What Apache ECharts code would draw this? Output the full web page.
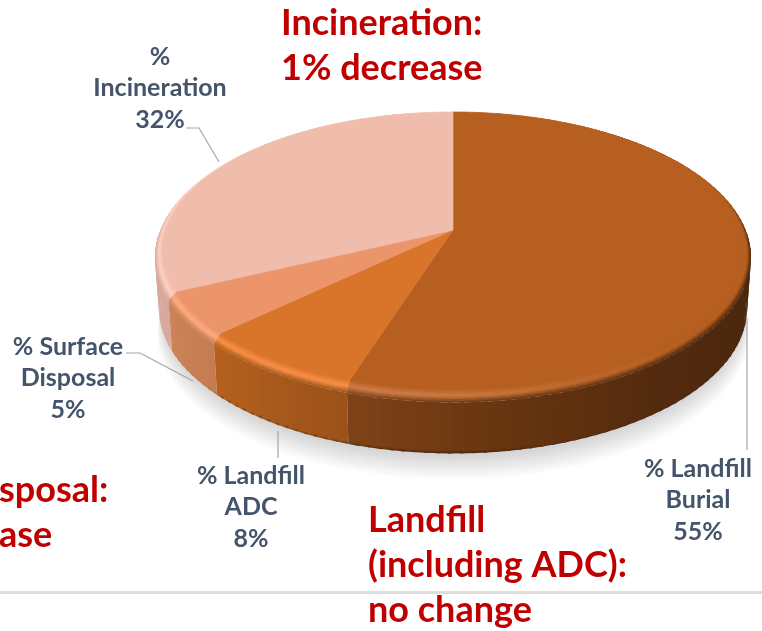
<!DOCTYPE html>
<html><head><meta charset="utf-8">
<style>html,body{margin:0;padding:0;background:#fff}#c{width:762px;height:631px}</style>
<script src="https://cdn.jsdelivr.net/npm/echarts@6/dist/echarts.min.js"></script>
</head><body><div id="c"></div>
<script>
const names = ['% Landfill\nBurial', '% Landfill\nADC', '% Surface\nDisposal', '%\nIncineration'];
const values = [55, 8, 5, 32];
const topColors = ['#b65f20', '#d9742b', '#ec956b', '#f0bdac'];
const rimColors = ['#d07f48', '#fb9148', '#ffac7f', '#fdd2c2'];
const wallDark = [0.55, 0.5, 0.12, 0];
const wallStops = [
  [[198,'#7f4318'],[170,'#65340f'],[140,'#522a0f'],[110,'#4b270d'],[0,'#4b270d']],
  [[227,'#b5621f'],[198,'#9b5119']],
  [[245,'#cd8359'],[227,'#c47c52']],
  [[360,'#d6a99c'],[245,'#d6a99c']]
];
const labelPos = [[698,500],[251,507],[68,378],[160,88]];
const leaders = [
  [[747,318],[747,450]],
  [[278,431],[278,458]],
  [[126,353],[140,353],[193,381]],
  [[186,128],[199,128],[219,162]]
];
const notes = [
  {t:'Incineration:\n1% decrease', x:281, y:46},
  {t:'sposal:\nase', x:-1, y:513},
  {t:'Landfill\n(including ADC):\nno change', x:368, y:565}
];

const CX=453, CY=230, P=0.148, A=286.8, B=135.5;
const SX=1.0276, SY=1.0484, OY=5.7, WS=0.987, WD=51;
const rad=d=>d*Math.PI/180;
function inner(th){const u=Math.sin(rad(th)),v=-Math.cos(rad(th)),w=1-P*v;return [A*u/w,B*v/w];}
function outer(th){const q=inner(th);return [q[0]*SX,q[1]*SY+OY];}
function bottom(th){const q=outer(th);return [q[0]*WS,q[1]+WD];}
function lerp(a,b,t){return [a[0]+(b[0]-a[0])*t,a[1]+(b[1]-a[1])*t];}
function abs(q){return [CX+q[0],CY+q[1]];}
function rgb(h){return [1,3,5].map(i=>parseInt(h.substr(i,2),16));}
function mix(a,b,t){t=Math.max(0,Math.min(1,t));const x=rgb(a),y=rgb(b);
  return '#'+x.map((c,i)=>Math.round(c+(y[i]-c)*t).toString(16).padStart(2,'0')).join('');}
function smooth(a,b,x){const t=Math.max(0,Math.min(1,(x-a)/(b-a)));return t*t*(3-2*t);}
const total=values.reduce((a,b)=>a+b,0);
const starts=[];values.reduce((s,v,i)=>{starts[i]=s;return s+v;},0);
function range(i){return [starts[i]/total*360,(starts[i]+values[i])/total*360];}
function wallColor(i,th){
  const st=wallStops[i];
  for(let k=0;k<st.length-1;k++){
    if(th<=st[k][0]&&th>=st[k+1][0]) return mix(st[k][1],st[k+1][1],(st[k][0]-th)/(st[k][0]-st[k+1][0]));
  }
  return st[st.length-1][1];
}
function hlAmount(i,th){
  if(i===0) return smooth(130,195,th);
  if(i===3) return 1-smooth(295,352,th);
  return 1;
}
function bevelColor(i,th,t){
  const v=-Math.cos(rad(th));
  const f=smooth(-0.45,0.1,v);
  const base=topColors[i];
  const h=hlAmount(i,th);
  const mid=mix(base,rimColors[i],h);
  if(t<0.5) return mix(base,mid,t/0.5);
  return mix(mid,wallColor(i,th),f*(t-0.5)/0.5);
}
function poly(pts,fill,stroked){
  return {type:'polygon',silent:true,shape:{points:pts.map(abs)},
    style:stroked?{fill:fill,stroke:fill,lineWidth:0.7}:{fill:fill}};
}
function renderWall(params){
  const i=params.dataIndex,[a,b]=range(i),kids=[],step=2;
  const n=Math.max(1,Math.ceil((b-a)/step));
  for(let k=0;k<n;k++){
    const t0=a+(b-a)*k/n,t1=Math.min(b,a+(b-a)*(k+1)/n+0.7),mid=(t0+t1)/2;
    if(-Math.cos(rad(mid))<-0.02) continue;
    const c=wallColor(i,mid);
    const fill={type:'linear',x:0,y:0,x2:0,y2:1,colorStops:[
      {offset:0,color:c},{offset:0.93,color:c},{offset:1,color:mix(c,'#2e1606',wallDark[i])}]};
    kids.push(poly([outer(t0),outer(t1),bottom(t1),bottom(t0)],fill));
  }
  return {type:'group',children:kids};
}
function renderTop(params){
  const i=params.dataIndex,[a,b]=range(i),kids=[],step=2,rows=8;
  const n=Math.max(1,Math.ceil((b-a)/step));
  for(let r=rows-1;r>=0;r--){
    const r0=r/rows,r1=(r+1)/rows,rc=(r0+r1)/2;
    for(let k=0;k<n;k++){
      const t0=a+(b-a)*k/n,t1=Math.min(b,a+(b-a)*(k+1)/n+0.7),mid=(t0+t1)/2;
      kids.push(poly([
        inner(t0),inner(t1),
        lerp(inner(t1),outer(t1),r1),lerp(inner(t0),outer(t0),r1)],bevelColor(i,mid,rc)));
    }
  }
  const face=[[0,0]];
  const m=Math.ceil(b-a);
  for(let k=0;k<=m;k++) face.push(inner(a+(b-a)*k/m));
  kids.push(poly(face,topColors[i],true));
  return {type:'group',children:kids};
}
function renderShadow(){
  const kids=[],layers=14;
  for(let j=layers-1;j>=0;j--){
    const pts=[],d=3+j*1.8,sc=0.99+j*0.0012;
    for(let k=0;k<360;k+=3){const q=bottom(k);pts.push([q[0]*sc,q[1]+d]);}
    kids.push({type:'polygon',silent:true,shape:{points:pts.map(abs)},style:{fill:'rgba(0,0,0,0.0115)'}});
  }
  return {type:'group',children:kids};
}
const graphics=[
  {type:'rect',shape:{x:0,y:591,width:762,height:3},style:{fill:'#dedede'},z:0,silent:true}
];
leaders.forEach(l=>graphics.push({type:'polyline',shape:{points:l},silent:true,z:5,
  style:{stroke:'#a6a6a6',lineWidth:1.2,fill:null}}));
names.forEach((nm,i)=>graphics.push({type:'text',z:6,silent:true,
  style:{text:nm+'\n'+values[i]+'%',x:labelPos[i][0],y:labelPos[i][1],align:'center',verticalAlign:'middle',
    textAlign:'center',textVerticalAlign:'middle',fill:'#44546a',font:'bold 25px Lato',lineHeight:31.5}}));
notes.forEach(n=>graphics.push({type:'text',z:7,silent:true,
  style:{text:n.t,x:n.x,y:n.y,textAlign:'left',textVerticalAlign:'middle',fill:'#c00000',font:'bold 36px Lato',lineHeight:45}}));
const data=values.map((v,i)=>({name:names[i],value:[v]}));
const chart=echarts.init(document.getElementById('c'),null,{renderer:'canvas'});
chart.setOption({
  animation:false,
  backgroundColor:'#fff',
  tooltip:{show:false},
  series:[
    {type:'custom',coordinateSystem:'none',z:1,silent:true,data:[{value:[total]}],renderItem:renderShadow},
    {type:'custom',coordinateSystem:'none',z:2,silent:true,data:data,renderItem:renderWall},
    {type:'custom',coordinateSystem:'none',z:3,silent:true,data:data,renderItem:renderTop}
  ],
  graphic:graphics
});
</script></body></html>
